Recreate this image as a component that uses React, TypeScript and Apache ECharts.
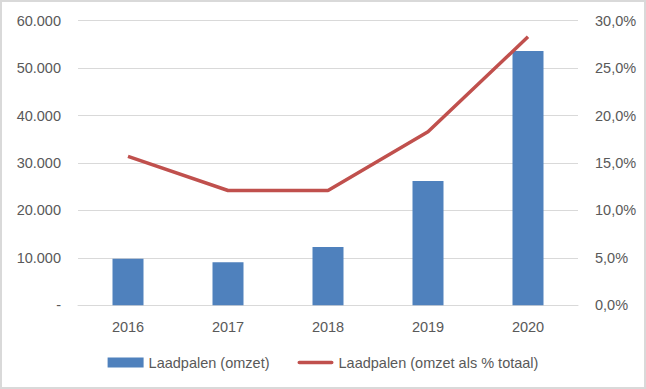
import React, { useEffect, useRef } from "react";
import * as echarts from "echarts";

const years = ["2016", "2017", "2018", "2019", "2020"];
const omzet = [9800, 9100, 12300, 26200, 53600];
const pctTotaal = [15.7, 12.1, 12.1, 18.3, 28.3];
const barName = "Laadpalen (omzet)";
const lineName = "Laadpalen (omzet als % totaal)";

const fmtThousands = (v: number) =>
  v === 0 ? "-" : String(v).replace(/\B(?=(\d{3})+(?!\d))/g, ".");
const fmtPct = (v: number) => v.toFixed(1).replace(".", ",") + "%";

export default function App() {
  const ref = useRef<HTMLDivElement>(null);
  useEffect(() => {
    if (!ref.current) return;
    const chart = echarts.init(ref.current, undefined, { renderer: "svg" });
    const font = "Liberation Sans";
    const fs = 14.5;
    chart.setOption({
      animation: false,
      backgroundColor: "transparent",
      textStyle: { fontFamily: font },
      grid: { left: 78, right: 68, top: 20.7, bottom: 83.7, containLabel: false },
      legend: {
        bottom: 14,
        left: "center",
        itemGap: 28,
        itemWidth: 36,
        itemHeight: 10,
        textStyle: { color: "#595959", fontSize: fs, fontFamily: font },
        data: [
          { name: barName, icon: "rect" },
          {
            name: lineName,
            icon: "path://M0,0 M40,10 M2,3 L38,3 A2,2 0 0 1 38,7 L2,7 A2,2 0 0 1 2,3 Z",
          },
        ],
      },
      xAxis: {
        type: "category",
        data: years,
        axisLine: { lineStyle: { color: "#d9d9d9" } },
        axisTick: { show: false },
        axisLabel: { color: "#595959", fontSize: fs, margin: 14 },
      },
      yAxis: [
        {
          type: "value",
          min: 0,
          max: 60000,
          interval: 10000,
          axisLine: { show: false },
          axisTick: { show: false },
          splitLine: { lineStyle: { color: "#d9d9d9" } },
          axisLabel: {
            color: "#595959",
            fontSize: fs,
            margin: 17,
            formatter: fmtThousands,
          },
        },
        {
          type: "value",
          min: 0,
          max: 30,
          interval: 5,
          position: "right",
          axisLine: { show: false },
          axisTick: { show: false },
          splitLine: { show: false },
          axisLabel: {
            color: "#595959",
            fontSize: fs,
            margin: 17,
            formatter: fmtPct,
          },
        },
      ],
      series: [
        {
          name: barName,
          type: "bar",
          data: omzet,
          barWidth: 31,
          itemStyle: { color: "#4f81bd" },
        },
        {
          name: lineName,
          type: "line",
          yAxisIndex: 1,
          data: pctTotaal,
          symbol: "none",
          lineStyle: { color: "#c0504d", width: 3.5 },
          itemStyle: { color: "#c0504d" },
        },
      ],
    });
    return () => chart.dispose();
  }, []);
  return (
    <div
      style={{
        position: "fixed",
        left: 0,
        top: 0,
        width: 646,
        height: 389,
        boxSizing: "border-box",
        border: "2px solid #d9d9d9",
        background: "#fff",
      }}
    >
      <div
        ref={ref}
        style={{ position: "absolute", left: -2, top: -2, width: 646, height: 389 }}
      />
    </div>
  );
}
